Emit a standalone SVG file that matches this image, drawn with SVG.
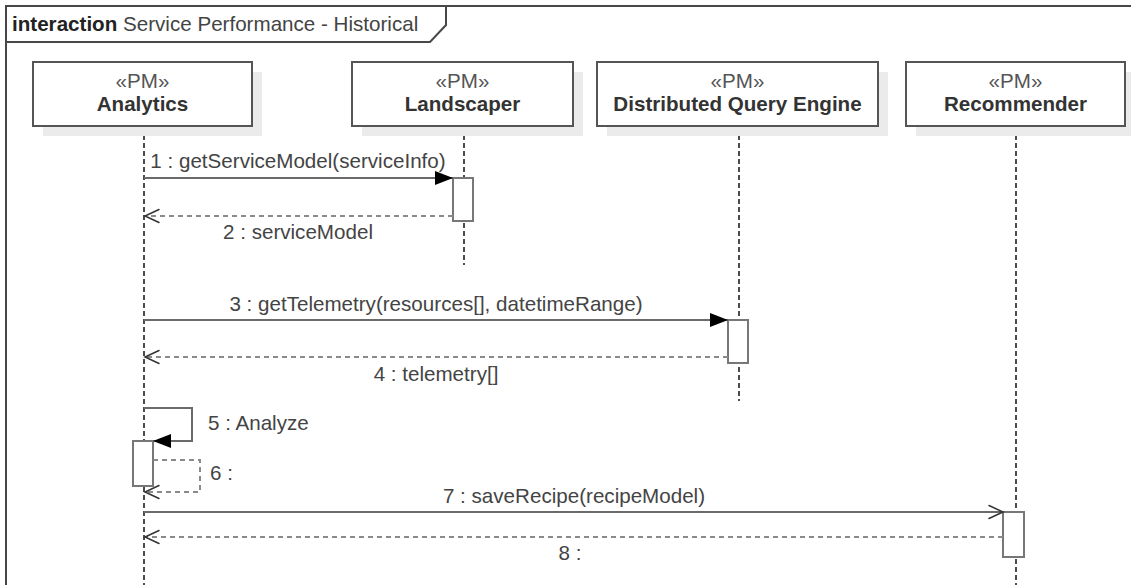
<svg xmlns="http://www.w3.org/2000/svg" width="1131" height="585" viewBox="0 0 1131 585">
<style>
text{font-family:"Liberation Sans",Arial,sans-serif;font-size:20.6px;fill:#444}
.b{font-weight:bold;fill:#333}
.st{fill:#555}
.frame{fill:none;stroke:#484848;stroke-width:2}
.box{fill:#fff;stroke:#555;stroke-width:2}
.shadow{fill:#ebebeb}
.life{stroke:#111;stroke-width:1.5;stroke-dasharray:5 3;fill:none}
.act{fill:#fff;stroke:#777;stroke-width:2}
.msg{stroke:#6a6a6a;stroke-width:2;fill:none}
.ret{stroke:#8a8a8a;stroke-width:2;stroke-dasharray:5 4;fill:none}
.c{text-anchor:middle}
</style>
<defs>
<marker id="fill" markerUnits="userSpaceOnUse" markerWidth="20" markerHeight="16" refX="18" refY="7" orient="auto">
<path d="M0,0 L18,7 L0,14 z" fill="#000"/>
</marker>
<marker id="open" markerUnits="userSpaceOnUse" markerWidth="18" markerHeight="18" refX="15" refY="8" orient="auto">
<path d="M1,1.5 L15,8 L1,14.5" fill="none" stroke="#333" stroke-width="1.5" stroke-linecap="round"/>
</marker>
</defs>
<rect x="0" y="0" width="1131" height="585" fill="#fff"/>
<g id="frame">
<rect class="frame" x="6" y="6" width="1140" height="600"/>
<path class="frame" d="M6,42 H430 L446,25 V6"/>
<text x="12" y="31"><tspan font-weight="bold" fill="#222">interaction</tspan> Service Performance - Historical</text>
</g>
<g id="lifelines">
<line class="life" x1="144" y1="127" x2="144" y2="585"/>
<line class="life" x1="464" y1="127" x2="464" y2="265"/>
<line class="life" x1="739" y1="127" x2="739" y2="401"/>
<line class="life" x1="1016" y1="127" x2="1016" y2="585"/>
</g>
<g id="analytics">
<rect class="shadow" x="43" y="72" width="219" height="64"/>
<rect class="box" x="33" y="62" width="219" height="64"/>
<text class="c st" x="142.5" y="88">«PM»</text>
<text class="c b" x="142.5" y="111">Analytics</text>
</g>
<g id="landscaper">
<rect class="shadow" x="362" y="72" width="221" height="64"/>
<rect class="box" x="352" y="62" width="221" height="64"/>
<text class="c st" x="462.5" y="88">«PM»</text>
<text class="c b" x="462.5" y="111">Landscaper</text>
</g>
<g id="dqe">
<rect class="shadow" x="607" y="72" width="281" height="64"/>
<rect class="box" x="597" y="62" width="281" height="64"/>
<text class="c st" x="737.5" y="88">«PM»</text>
<text class="c b" x="737.5" y="111">Distributed Query Engine</text>
</g>
<g id="recommender">
<rect class="shadow" x="916" y="72" width="219" height="64"/>
<rect class="box" x="906" y="62" width="219" height="64"/>
<text class="c st" x="1015.5" y="88">«PM»</text>
<text class="c b" x="1015.5" y="111">Recommender</text>
</g>
<g id="activations">
<rect class="act" x="453" y="178" width="20" height="43"/>
<rect class="act" x="728" y="320" width="20" height="43"/>
<rect class="act" x="133" y="441" width="20" height="45"/>
<rect class="act" x="1003" y="512" width="21" height="45"/>
</g>
<g id="connectors">
<line class="msg" x1="144" y1="178" x2="453" y2="178" marker-end="url(#fill)"/>
<text class="c" x="298" y="168">1 : getServiceModel(serviceInfo)</text>
<line class="ret" x1="453" y1="216" x2="145" y2="216" marker-end="url(#open)"/>
<text class="c" x="298" y="239">2 : serviceModel</text>
<line class="msg" x1="144" y1="320" x2="728" y2="320" marker-end="url(#fill)"/>
<text class="c" x="436" y="311">3 : getTelemetry(resources[], datetimeRange)</text>
<line class="ret" x1="728" y1="357" x2="145" y2="357" marker-end="url(#open)"/>
<text class="c" x="436" y="381">4 : telemetry[]</text>
<path class="msg" d="M144,408 H192 V441 H153" marker-end="url(#fill)"/>
<text x="208" y="430">5 : Analyze</text>
<path class="ret" d="M153,460 H200 V492 H145" marker-end="url(#open)"/>
<text x="210" y="480">6 :</text>
<line class="msg" x1="144" y1="512" x2="1003" y2="512" marker-end="url(#open)"/>
<text class="c" x="574" y="503">7 : saveRecipe(recipeModel)</text>
<line class="ret" x1="1003" y1="537" x2="145" y2="537" marker-end="url(#open)"/>
<text class="c" x="570" y="560">8 :</text>
</g>
</svg>
